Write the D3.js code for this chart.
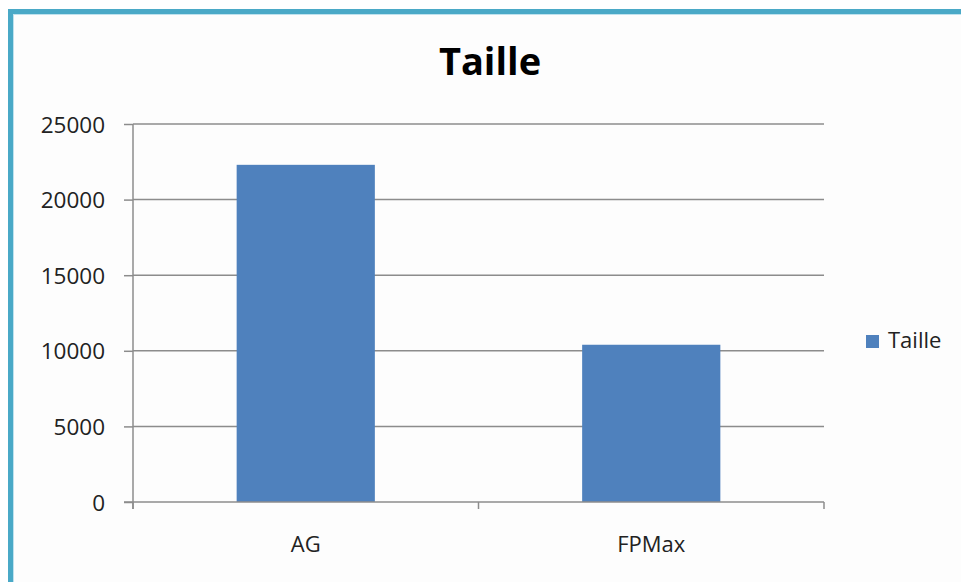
<!DOCTYPE html>
<html>
<head>
<meta charset="utf-8">
<script src="https://cdn.jsdelivr.net/npm/d3@7"></script>
<style>
  html, body { margin: 0; padding: 0; background: #ffffff; }
  svg { display: block; }
</style>
</head>
<body>
<svg id="chart" width="961" height="582"></svg>
<script>
// Chart data
const categories = ["AG", "FPMax"];
const seriesName = "Taille";
const values = [22300, 10400];
const yTicks = [0, 5000, 10000, 15000, 20000, 25000];

const svg = d3.select("#chart");
const W = 961, H = 582;
const font = "'Open Sans', 'Noto Sans', sans-serif";

// Frame background and teal border (right/bottom edges run off the canvas)
svg.append("rect").attr("x", 0).attr("y", 0).attr("width", W).attr("height", H).attr("fill", "#ffffff");
svg.append("rect").attr("x", 10.5).attr("y", 11.5).attr("width", W + 20).attr("height", H + 20)
  .attr("fill", "#fdfdfd").attr("stroke", "#4aa9c7").attr("stroke-width", 5);
svg.append("rect").attr("x", 13.5).attr("y", 14.5).attr("width", W + 20).attr("height", H + 20)
  .attr("fill", "none").attr("stroke", "#bfe2ee").attr("stroke-width", 1);

const plot = { left: 133, right: 824, top: 124, bottom: 502 };

const x = d3.scaleBand()
  .domain(categories)
  .range([plot.left, plot.right])
  .paddingInner(0.6)
  .paddingOuter(0.3);

const y = d3.scaleLinear()
  .domain([0, 25000])
  .range([plot.bottom, plot.top]);

// Horizontal gridlines
svg.append("g")
  .selectAll("line")
  .data(yTicks.filter(d => d > 0))
  .join("line")
  .attr("x1", plot.left).attr("x2", plot.right)
  .attr("y1", d => y(d)).attr("y2", d => y(d))
  .attr("stroke", "#8c8c8c").attr("stroke-width", 1.5);

// Bars
svg.append("g")
  .selectAll("rect")
  .data(values)
  .join("rect")
  .attr("x", (d, i) => x(categories[i]))
  .attr("y", d => y(d))
  .attr("width", x.bandwidth())
  .attr("height", d => y(0) - y(d))
  .attr("fill", "#4f81bd");

// Y axis
const yAxis = svg.append("g")
  .attr("transform", `translate(${plot.left},0)`)
  .call(d3.axisLeft(y).tickValues(yTicks).tickSize(9).tickPadding(19).tickFormat(d3.format("d")));
yAxis.select(".domain").attr("stroke", "#8c8c8c").attr("stroke-width", 1.5)
  .attr("d", `M0,${plot.top}V${plot.bottom + 7}`);
yAxis.selectAll(".tick line").attr("stroke", "#8c8c8c").attr("stroke-width", 1.5);
yAxis.selectAll(".tick text")
  .attr("font-family", font).attr("font-size", 22.5).attr("fill", "#222222")
  .attr("dy", "0.36em");

// X axis with tick marks at category boundaries
const xAxisG = svg.append("g").attr("transform", `translate(0,${plot.bottom})`);
xAxisG.append("line")
  .attr("x1", plot.left - 9).attr("x2", plot.right)
  .attr("stroke", "#8c8c8c").attr("stroke-width", 1.5);
const boundaries = [plot.left, (plot.left + plot.right) / 2, plot.right];
xAxisG.selectAll(".bnd")
  .data(boundaries)
  .join("line")
  .attr("x1", d => d).attr("x2", d => d)
  .attr("y1", 0).attr("y2", 7)
  .attr("stroke", "#8c8c8c").attr("stroke-width", 1.5);
xAxisG.selectAll("text")
  .data(categories)
  .join("text")
  .attr("x", d => x(d) + x.bandwidth() / 2)
  .attr("y", 50)
  .attr("text-anchor", "middle")
  .attr("font-family", font).attr("font-size", 22).attr("fill", "#222222")
  .text(d => d);

// Title
svg.append("text")
  .attr("x", 490).attr("y", 75)
  .attr("text-anchor", "middle")
  .attr("font-family", font).attr("font-weight", "bold").attr("font-size", 38)
  .attr("fill", "#000000")
  .text(seriesName);

// Legend
const legend = svg.append("g").attr("transform", "translate(866,335)");
legend.append("rect").attr("width", 13).attr("height", 13).attr("fill", "#4f81bd");
legend.append("text")
  .attr("x", 22).attr("y", 13)
  .attr("font-family", font).attr("font-size", 22).attr("fill", "#222222")
  .text(seriesName);
</script>
</body>
</html>
